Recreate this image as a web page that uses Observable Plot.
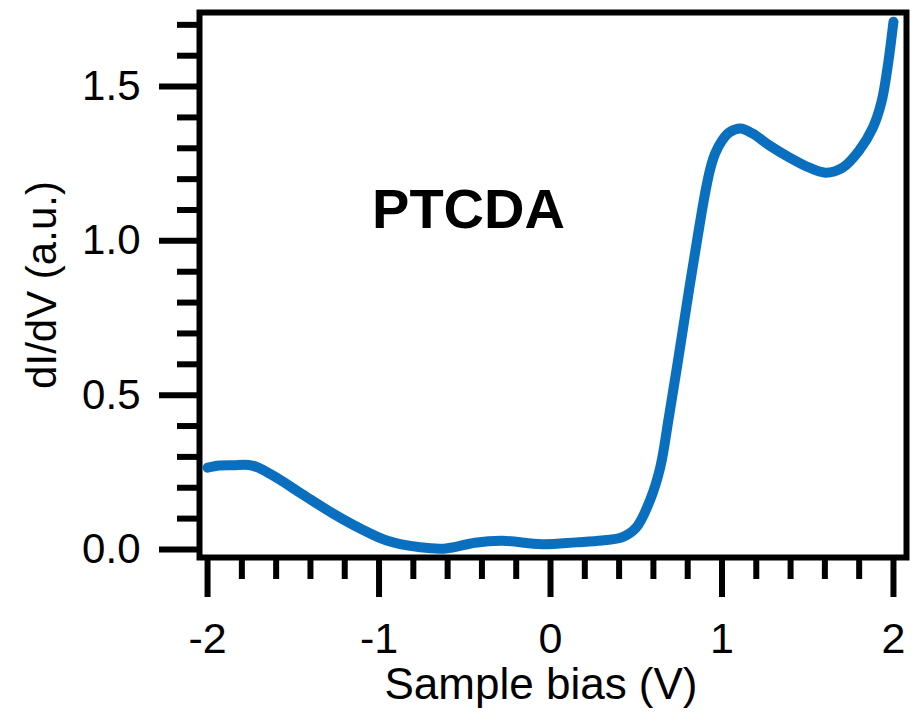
<!DOCTYPE html>
<html><head><meta charset="utf-8">
<script src="https://cdn.jsdelivr.net/npm/d3@7"></script>
<script src="https://cdn.jsdelivr.net/npm/@observablehq/plot@0.6"></script>
<style>
body{margin:0;background:#fff}
#chart svg{font-family:"Liberation Sans",Arial,sans-serif}
</style>
</head><body><div id="chart"></div>
<script>
const bias = [-2.0,-1.93,-1.85,-1.74,-1.62,-1.45,-1.27,-1.11,-0.96,-0.76,-0.61,-0.44,-0.28,-0.05,0.15,0.30,0.42,0.50,0.58,0.64,0.69,0.75,0.81,0.86,0.90,0.93,0.96,1.0,1.044,1.108,1.178,1.277,1.394,1.51,1.603,1.703,1.80,1.88,1.93,1.965,2.0];
const dIdV = [0.265,0.272,0.273,0.272,0.24,0.18,0.117,0.068,0.03,0.007,0.003,0.022,0.028,0.017,0.023,0.029,0.040,0.071,0.159,0.266,0.428,0.635,0.849,1.02,1.15,1.23,1.283,1.325,1.352,1.364,1.348,1.309,1.270,1.237,1.221,1.237,1.293,1.367,1.45,1.56,1.71];
const xMajorTicks = [-2,-1,0,1,2];
const xMinorTicks = [-1.8,-1.6,-1.4,-1.2,-0.8,-0.6,-0.4,-0.2,0.2,0.4,0.6,0.8,1.2,1.4,1.6,1.8];
const yMajorTicks = [0,0.5,1.0,1.5];
const yMinorTicks = [0.1,0.2,0.3,0.4,0.6,0.7,0.8,0.9,1.1,1.2,1.3,1.4,1.6,1.7];
const xLabel = "Sample bias (V)";
const yLabel = "dI/dV (a.u.)";
const annotation = "PTCDA";

const data = bias.map((b,i)=>({bias:b, dIdV:dIdV[i]}));
const font = '"Liberation Sans", Arial, sans-serif';

const chart = Plot.plot({
  width:914, height:718,
  marginLeft:199, marginRight:8, marginTop:12, marginBottom:161,
  style:{fontFamily:font, color:"#000", background:"#fff", overflow:"visible"},
  x:{domain:[-2.047,2.076]},
  y:{domain:[-0.026,1.74]},
  marks:[
    Plot.line(data,{x:"bias",y:"dIdV",stroke:"#0a6fbf",strokeWidth:10,curve:"catmull-rom",strokeLinecap:"round",strokeLinejoin:"round"}),
    Plot.frame({stroke:"#000",strokeWidth:6}),
    Plot.axisX(xMinorTicks,{tickSize:22,tickFormat:()=>"",label:null,strokeWidth:6,strokeLinecap:"butt"}),
    Plot.axisX(xMajorTicks,{tickSize:40,tickPadding:25,tickFormat:d=>String(d),label:null,strokeWidth:6,fontSize:43}),
    Plot.axisY(yMinorTicks,{tickSize:22,tickFormat:()=>"",label:null,strokeWidth:6}),
    Plot.axisY(yMajorTicks,{tickSize:40,tickPadding:19,tickFormat:d3.format(".1f"),label:null,strokeWidth:6,fontSize:42}),
    Plot.text([yLabel],{frameAnchor:"left",dx:-157,rotate:-90,textAnchor:"middle",lineAnchor:"middle",fontSize:42,fill:"#000"}),
    Plot.text([xLabel],{frameAnchor:"bottom",dx:-12,dy:141,textAnchor:"middle",fontSize:44,fill:"#000"}),
    Plot.text([annotation],{frameAnchor:"top-left",dx:269,dy:198,textAnchor:"middle",lineAnchor:"middle",fontWeight:"bold",fontSize:56,fill:"#000"})
  ]
});
document.getElementById("chart").appendChild(chart);
</script>
</body></html>
